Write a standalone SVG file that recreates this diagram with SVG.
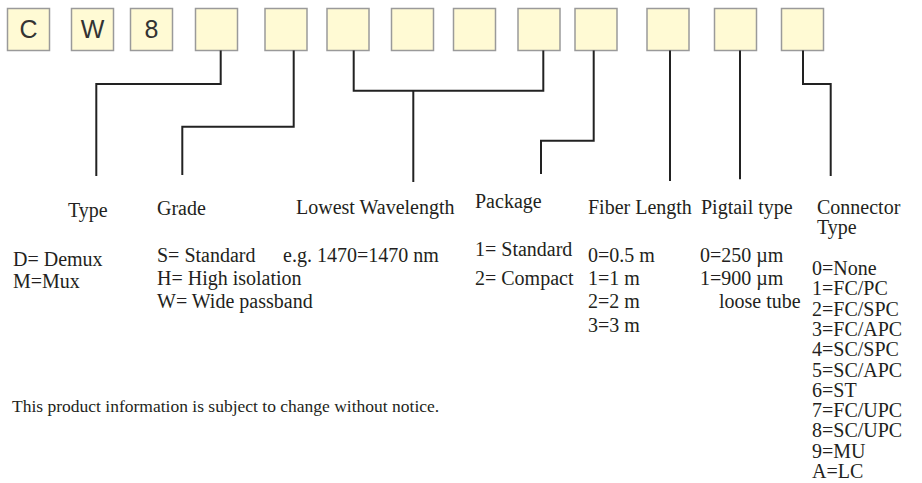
<svg xmlns="http://www.w3.org/2000/svg" width="922" height="483" viewBox="0 0 922 483">
<style>
.box{fill:#FFFAD4;stroke:#9a9a9a;stroke-width:1.5}
.bt{font-family:"Liberation Sans",Arial,sans-serif;font-size:25px;fill:#333;text-anchor:middle}
.ln{fill:none;stroke:#222;stroke-width:2}
.t{font-family:"Liberation Serif","Times New Roman",serif;font-size:20px;fill:#231f20}
.f{font-family:"Liberation Serif","Times New Roman",serif;font-size:17.5px;fill:#231f20}
</style>
<rect width="922" height="483" fill="#fff"/>
<g id="code">
<g id="b1"><rect class="box" x="7.5" y="8.5" width="42" height="42"/><text class="bt" x="28.5" y="38">C</text></g>
<g id="b2"><rect class="box" x="71.5" y="8.5" width="42" height="42"/><text class="bt" x="92.5" y="38">W</text></g>
<g id="b3"><rect class="box" x="130.5" y="8.5" width="42" height="42"/><text class="bt" x="151.5" y="38">8</text></g>
<g id="b4"><rect class="box" x="195.5" y="8.5" width="42" height="42"/></g>
<g id="b5"><rect class="box" x="265" y="8.5" width="42" height="42"/></g>
<g id="b6"><rect class="box" x="327" y="8.5" width="42" height="42"/></g>
<g id="b7"><rect class="box" x="391.5" y="8.5" width="42" height="42"/></g>
<g id="b8"><rect class="box" x="453.5" y="8.5" width="42" height="42"/></g>
<g id="b9"><rect class="box" x="518" y="8.5" width="42" height="42"/></g>
<g id="b10"><rect class="box" x="575" y="8.5" width="42" height="42"/></g>
<g id="b11"><rect class="box" x="647" y="8.5" width="42" height="42"/></g>
<g id="b12"><rect class="box" x="714.5" y="8.5" width="42" height="42"/></g>
<g id="b13"><rect class="box" x="781.5" y="8.5" width="42" height="42"/></g>
</g>
<g id="connectors">
<path class="ln" d="M220.7,50.5 V84 H96.3 V176"/>
<path class="ln" d="M293.7,50.5 V126.7 H182.3 V175"/>
<path class="ln" d="M353.7,50.5 V90.7 H543.3 V50.5 M413.3,90.7 V182"/>
<path class="ln" d="M593.7,50.5 V140.7 H541 V174"/>
<path class="ln" d="M670,50.5 V181"/>
<path class="ln" d="M740,50.5 V179.3"/>
<path class="ln" d="M803,50.5 V84 H830.7 V176"/>
</g>
<g id="type">
<text class="t" x="68" y="217">Type</text>
<text class="t" x="13" y="266">D= Demux</text>
<text class="t" x="13" y="288">M=Mux</text>
</g>
<g id="grade">
<text class="t" x="157" y="215">Grade</text>
<text class="t" x="157" y="262">S= Standard</text>
<text class="t" x="157" y="285">H= High isolation</text>
<text class="t" x="157" y="308">W= Wide passband</text>
</g>
<g id="wavelength">
<text class="t" x="296" y="214">Lowest Wavelength</text>
<text class="t" x="283" y="262">e.g. 1470=1470 nm</text>
</g>
<g id="package">
<text class="t" x="475" y="208">Package</text>
<text class="t" x="475" y="256">1= Standard</text>
<text class="t" x="475" y="285">2= Compact</text>
</g>
<g id="fiber">
<text class="t" x="588" y="214">Fiber Length</text>
<text class="t" x="588" y="262">0=0.5 m</text>
<text class="t" x="588" y="285">1=1 m</text>
<text class="t" x="588" y="308">2=2 m</text>
<text class="t" x="588" y="332">3=3 m</text>
</g>
<g id="pigtail">
<text class="t" x="701" y="214">Pigtail type</text>
<text class="t" x="700" y="262">0=250 µm</text>
<text class="t" x="700" y="285">1=900 µm</text>
<text class="t" x="719" y="308">loose tube</text>
</g>
<g id="connector">
<text class="t" x="817" y="214">Connector</text>
<text class="t" x="817" y="234">Type</text>
<text class="t" x="812" y="275">0=None</text>
<text class="t" x="812" y="295.3">1=FC/PC</text>
<text class="t" x="812" y="315.6">2=FC/SPC</text>
<text class="t" x="812" y="335.9">3=FC/APC</text>
<text class="t" x="812" y="356.2">4=SC/SPC</text>
<text class="t" x="812" y="376.5">5=SC/APC</text>
<text class="t" x="812" y="396.8">6=ST</text>
<text class="t" x="812" y="417.1">7=FC/UPC</text>
<text class="t" x="812" y="437.4">8=SC/UPC</text>
<text class="t" x="812" y="457.7">9=MU</text>
<text class="t" x="812" y="478">A=LC</text>
</g>
<text class="f" x="12" y="412">This product information is subject to change without notice.</text>
</svg>
